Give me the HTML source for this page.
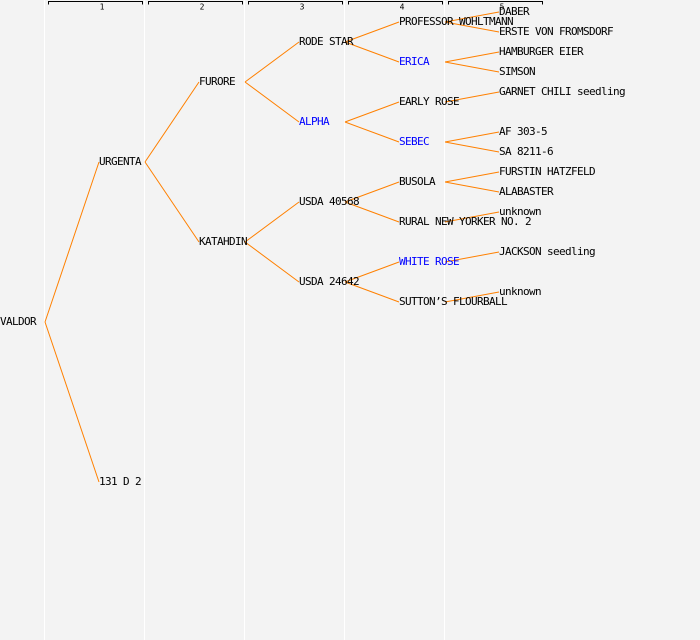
<!DOCTYPE html>
<html><head><meta charset="utf-8"><style>
html,body{margin:0;padding:0;background:#f3f3f3;}
svg{display:block;}
text{font-family:"DejaVu Sans Mono","Liberation Mono",monospace;font-size:11px;letter-spacing:-0.62px;fill:#000;dominant-baseline:middle;}
.b{fill:#0000ff;}
.e{stroke:#ff8000;stroke-width:1;fill:none;}
</style></head><body>
<svg width="700" height="640" xmlns="http://www.w3.org/2000/svg">
<rect width="700" height="640" fill="#f3f3f3"/>
<g stroke="#ffffff" stroke-width="1">
<line x1="44.5" y1="0" x2="44.5" y2="640"/><line x1="144.5" y1="0" x2="144.5" y2="640"/>
<line x1="244.5" y1="0" x2="244.5" y2="640"/><line x1="344.5" y1="0" x2="344.5" y2="640"/>
<line x1="444.5" y1="0" x2="444.5" y2="640"/>
</g>
<g stroke="#000" stroke-width="1" fill="none">
<path d="M48.5 4.5V1.5H142.5V4.5"/><path d="M148.5 4.5V1.5H242.5V4.5"/>
<path d="M248.5 4.5V1.5H342.5V4.5"/><path d="M348.5 4.5V1.5H442.5V4.5"/>
<path d="M448.5 4.5V1.5H542.5V4.5"/>
</g>
<text x="102" y="7" text-anchor="middle" style="font-size:8px;letter-spacing:0">1</text>
<text x="202" y="7" text-anchor="middle" style="font-size:8px;letter-spacing:0">2</text>
<text x="302" y="7" text-anchor="middle" style="font-size:8px;letter-spacing:0">3</text>
<text x="402" y="7" text-anchor="middle" style="font-size:8px;letter-spacing:0">4</text>
<text x="502" y="7" text-anchor="middle" style="font-size:8px;letter-spacing:0">5</text>
<g class="e">
<path d="M45 322L99 162M45 322L99 482"/>
<path d="M145 162L199 82M145 162L199 242"/>
<path d="M245 82L299 42M245 82L299 122M245 242L299 202M245 242L299 282"/>
<path d="M345 42L399 22M345 42L399 62M345 122L399 102M345 122L399 142M345 202L399 182M345 202L399 222M345 282L399 262M345 282L399 302"/>
<path d="M445 22L499 12M445 22L499 32M445 62L499 52M445 62L499 72M445 102L499 92M445 142L499 132M445 142L499 152M445 182L499 172M445 182L499 192M445 222L499 212M445 262L499 252M445 302L499 292"/>
</g>
<text x="0" y="322">VALDOR</text>
<text x="99" y="162">URGENTA</text><text x="99" y="482">131 D 2</text>
<text x="199" y="82">FURORE</text><text x="199" y="242">KATAHDIN</text>
<text x="299" y="42">RODE STAR</text><text x="299" y="122" class="b">ALPHA</text>
<text x="299" y="202">USDA 40568</text><text x="299" y="282">USDA 24642</text>
<text x="399" y="22">PROFESSOR WOHLTMANN</text><text x="399" y="62" class="b">ERICA</text>
<text x="399" y="102">EARLY ROSE</text><text x="399" y="142" class="b">SEBEC</text>
<text x="399" y="182">BUSOLA</text><text x="399" y="222">RURAL NEW YORKER NO. 2</text>
<text x="399" y="262" class="b">WHITE ROSE</text><text x="399" y="302">SUTTON’S FLOURBALL</text>
<text x="499" y="12">DABER</text><text x="499" y="32">ERSTE VON FROMSDORF</text>
<text x="499" y="52">HAMBURGER EIER</text><text x="499" y="72">SIMSON</text>
<text x="499" y="92">GARNET CHILI seedling</text>
<text x="499" y="132">AF 303-5</text><text x="499" y="152">SA 8211-6</text>
<text x="499" y="172">FURSTIN HATZFELD</text><text x="499" y="192">ALABASTER</text>
<text x="499" y="212">unknown</text><text x="499" y="252">JACKSON seedling</text>
<text x="499" y="292">unknown</text>
</svg>
</body></html>
